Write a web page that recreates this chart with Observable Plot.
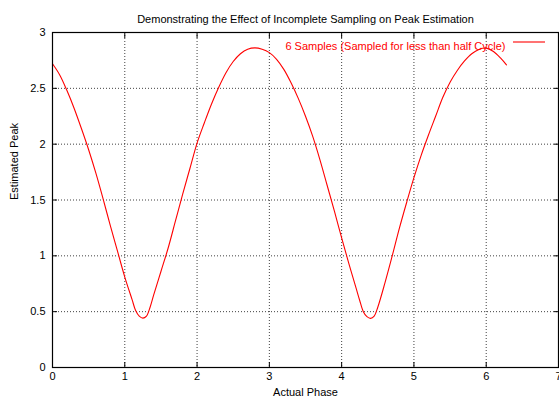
<!DOCTYPE html>
<html>
<head>
<meta charset="utf-8">
<script src="https://cdn.jsdelivr.net/npm/d3@7"></script>
<script src="https://cdn.jsdelivr.net/npm/@observablehq/plot@0.6"></script>
<style>
  html, body { margin: 0; padding: 0; background: #fff; }
  svg { display: block; }
</style>
</head>
<body>
<div id="chart"></div>
<script>
const title = "Demonstrating the Effect of Incomplete Sampling on Peak Estimation";
const xLabel = "Actual Phase";
const yLabel = "Estimated Peak";
const seriesName = "6 Samples (Sampled for less than half Cycle)";
const xTicks = [0, 1, 2, 3, 4, 5, 6, 7];
const yTicks = [0, 0.5, 1, 1.5, 2, 2.5, 3];
const xGrid = [1, 2, 3, 4, 5, 6];
const yGrid = [0.5, 1, 1.5, 2, 2.5];

const phase = [0, 0.1, 0.2, 0.3, 0.4, 0.5, 0.6, 0.7, 0.8, 0.9, 1.0, 1.1, 1.15, 1.2, 1.25, 1.3, 1.35, 1.4, 1.5, 1.6, 1.7, 1.8, 1.9, 2.0,
  2.1, 2.2, 2.3, 2.4, 2.5, 2.6, 2.7, 2.8, 2.9, 3.0, 3.1, 3.2, 3.3, 3.4, 3.5, 3.6, 3.7, 3.8, 3.9, 4.0,
  4.1, 4.2, 4.25, 4.3, 4.35, 4.4, 4.45, 4.5, 4.6, 4.7, 4.8, 4.9, 5.0, 5.1, 5.2, 5.3, 5.4, 5.5, 5.6, 5.7, 5.8, 5.9, 6.0, 6.1, 6.2, 6.28];
const peak = [2.72, 2.62, 2.48, 2.32, 2.14, 1.95, 1.74, 1.51, 1.27, 1.04, 0.81, 0.61, 0.51, 0.46, 0.442, 0.46, 0.54, 0.65, 0.86, 1.07, 1.31, 1.55, 1.78, 2.01,
  2.19, 2.36, 2.51, 2.64, 2.74, 2.81, 2.85, 2.862, 2.85, 2.82, 2.76, 2.67, 2.55, 2.41, 2.25, 2.07, 1.86, 1.63, 1.40, 1.16,
  0.93, 0.71, 0.60, 0.50, 0.455, 0.44, 0.46, 0.54, 0.76, 1.00, 1.25, 1.48, 1.70, 1.90, 2.08, 2.25, 2.42, 2.555, 2.66, 2.745, 2.81, 2.848, 2.86, 2.83, 2.77, 2.71];

const data = phase.map((p, i) => ({phase: p, peak: peak[i]}));

const W = 559, H = 402;
const mL = 52, mR = 1, mT = 32, mB = 35;
const font = "'Liberation Sans', Arial, Helvetica, sans-serif";
const fs = 11;
const fmt = d => String(d);

const chart = Plot.plot({
  width: W,
  height: H,
  marginLeft: mL,
  marginRight: mR,
  marginTop: mT,
  marginBottom: mB,
  style: {fontFamily: font, fontSize: fs + "px", color: "#000", background: "#fff", overflow: "visible"},
  x: {domain: [0, 7], ticks: xTicks, tickFormat: fmt},
  y: {domain: [0, 3], ticks: yTicks, tickFormat: fmt},
  marks: [
    Plot.gridX(xGrid, {stroke: "#000", strokeOpacity: 0.75, strokeDasharray: "1,2"}),
    Plot.gridY(yGrid, {stroke: "#000", strokeOpacity: 0.75, strokeDasharray: "1,2"}),
    Plot.axisX(xTicks, {tickSize: 0, tickPadding: 5, tickFormat: fmt, label: null}),
    Plot.axisY(yTicks, {tickSize: 0, tickPadding: 7, tickFormat: fmt, label: null}),
    Plot.axisX(xTicks, {anchor: "bottom", tickSize: 5, dy: -5, text: null, label: null}),
    Plot.axisX(xTicks, {anchor: "top", tickSize: 5, dy: 5, text: null, label: null}),
    Plot.axisY(yTicks, {anchor: "left", tickSize: 5, dx: 5, text: null, label: null}),
    Plot.axisY(yTicks, {anchor: "right", tickSize: 5, dx: -5, text: null, label: null}),
    Plot.line(data, {x: "phase", y: "peak", stroke: "#ff0000", strokeWidth: 1.1, curve: "catmull-rom"}),
    Plot.frame({stroke: "#000", strokeWidth: 1.2}),
    Plot.text([title], {frameAnchor: "top", dy: -17, fontSize: fs, fill: "#000"}),
    Plot.text([xLabel], {frameAnchor: "bottom", dy: 28, fontSize: fs, fill: "#000"}),
    Plot.text([yLabel], {frameAnchor: "left", dx: -38, rotate: -90, fontSize: fs, fill: "#000"}),
    Plot.text([seriesName], {frameAnchor: "top-right", textAnchor: "end", dx: -53, dy: 10, fontSize: fs, fill: "#ff0000"})
  ]
});

// legend swatch next to the series label
const svg = d3.select(chart);
const swX2 = W - mR - 13, swX1 = swX2 - 32, swY = mT + 10;
svg.append("line")
  .attr("x1", swX1).attr("x2", swX2)
  .attr("y1", swY).attr("y2", swY)
  .attr("stroke", "#ff0000").attr("stroke-width", 1.1);

document.getElementById("chart").appendChild(chart);
</script>
</body>
</html>
